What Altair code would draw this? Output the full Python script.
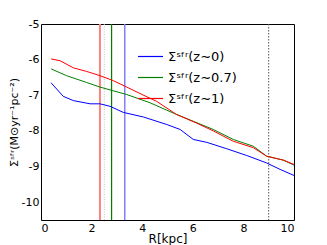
import altair as alt
import pandas as pd

r_blue = [0.4, 0.88, 1.28, 1.94, 2.33, 2.73, 3.25, 4.05, 4.97, 5.5, 6.02, 6.55, 7.34, 8.13, 8.92, 9.45, 10.0]
v_blue = [-6.65, -7.03, -7.15, -7.24, -7.24, -7.31, -7.48, -7.61, -7.82, -7.96, -8.24, -8.32, -8.5, -8.69, -8.9, -9.08, -9.25]
r_green = [0.4, 1.01, 1.8, 2.33, 3.39, 4.31, 5.23, 6.02, 6.81, 7.6, 8.39, 8.92, 9.58, 10.0]
v_green = [-6.26, -6.45, -6.64, -6.77, -6.98, -7.21, -7.5, -7.73, -7.96, -8.24, -8.43, -8.71, -8.82, -8.96]
r_red = [0.4, 0.75, 1.28, 1.8, 2.33, 2.86, 3.39, 3.91, 4.57, 5.36, 6.15, 6.81, 7.6, 8.39, 8.92, 9.58, 10.0]
v_red = [-5.98, -6.03, -6.23, -6.33, -6.45, -6.59, -6.77, -6.95, -7.17, -7.54, -7.78, -8.0, -8.29, -8.47, -8.71, -8.82, -8.94]

labels = ["Σˢᶠʳ(z∼0)", "Σˢᶠʳ(z∼0.7)", "Σˢᶠʳ(z∼1)"]
colors = ["#0000ff", "#008000", "#ff0000"]

vlines_x = [2.33, 2.5, 2.79, 3.31, 9.0]
vlines_color = ["#ff8080", "#c0c0c0", "#008000", "#8080ff", "#555555"]
vlines_width = [2.0, 1.0, 1.2, 1.5, 1.0]
vlines_dash = [[1, 0], [1, 1.5], [1, 0], [1, 0], [1.5, 1.5]]

rows = []
for lab, xs, ys in zip(labels, [r_blue, r_green, r_red], [v_blue, v_green, v_red]):
    for i, (x, y) in enumerate(zip(xs, ys)):
        rows.append({"R": x, "S": y, "series": lab, "order": i})
df = pd.DataFrame(rows)

vdf = pd.DataFrame({"R": vlines_x})

xscale = alt.Scale(domain=[0, 10], nice=False)
yscale = alt.Scale(domain=[-10.5, -5], nice=False)

base_axis = dict(grid=False, domain=False, ticks=False, labelFontSize=11,
                 labelColor="black", labelFont="DejaVu Sans", titleFont="DejaVu Sans",
                 titleFontWeight="normal", titleColor="black")

vrules = []
for i in range(len(vlines_x)):
    vrules.append(
        alt.Chart(vdf.iloc[[i]]).mark_rule(
            color=vlines_color[i], strokeWidth=vlines_width[i], strokeDash=vlines_dash[i]
        ).encode(x=alt.X("R:Q", scale=xscale))
    )

lines = alt.Chart(df).mark_line(strokeWidth=1).encode(
    x=alt.X("R:Q", scale=xscale, title="R[kpc]",
            axis=alt.Axis(values=[0, 2, 4, 6, 8, 10], titleFontSize=12, titlePadding=0,
                          labelPadding=2, **base_axis)),
    y=alt.Y("S:Q", scale=yscale, title="Σˢᶠʳ(M⊙yr⁻¹pc⁻²)",
            axis=alt.Axis(values=[-5, -6, -7, -8, -9, -10], labelExpr="replace(datum.label, '−', '-')",
                          titleFontSize=11, titlePadding=2, labelPadding=2, **base_axis)),
    color=alt.Color("series:N", scale=alt.Scale(domain=labels, range=colors),
                    legend=alt.Legend(title=None, orient="none", legendX=96, legendY=19,
                                      symbolType="stroke", symbolSize=625, symbolStrokeWidth=1.2,
                                      labelFontSize=13, labelFont="DejaVu Sans", rowPadding=0,
                                      labelColor="black")),
    order="order:Q",
)

chart = alt.layer(*vrules, lines).properties(
    width=253, height=196,
    autosize=alt.AutoSizeParams(type="none"),
    padding={"left": 33, "top": 16, "right": 20, "bottom": 30},
).configure(background="white").configure_view(stroke="black", strokeWidth=1)

chart.save("out.html", embed_options={"renderer": "svg", "actions": False})
